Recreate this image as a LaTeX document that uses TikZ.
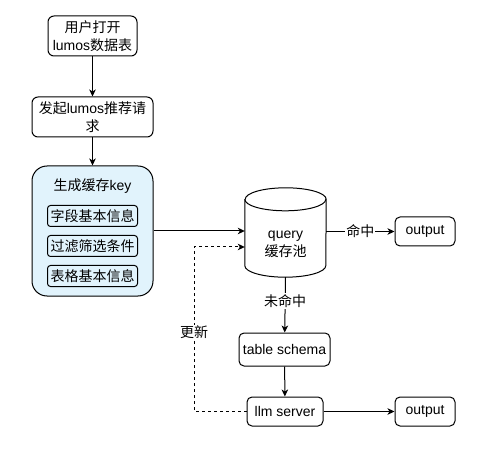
\documentclass[tikz,border=0pt]{standalone}
\usepackage{fontspec}
\setmainfont{Liberation Sans}
\newfontfamily\cjk{Noto Sans CJK SC}
\usetikzlibrary{arrows.meta}
\definecolor{keyblue}{RGB}{225,243,252}

\begin{document}
\begin{tikzpicture}[x=1pt,y=-1pt,
	box/.style={draw,line width=1pt,rounded corners=6pt,align=center,inner sep=0pt,font=\fontsize{14pt}{18pt}\selectfont},
	field/.style={box,rounded corners=3pt,minimum width=90pt,minimum height=21pt},
	small/.style={box,rounded corners=5pt,minimum width=60pt,minimum height=29pt},
	lbl/.style={fill=white,inner sep=1pt,align=center,font=\fontsize{14pt}{18pt}\selectfont},
	line/.style={line width=1pt,->}]
		\tikzset{> = {Stealth[length=7pt,width=6.5pt,inset=2pt]}}
		\useasboundingbox (0,0) rectangle (503,454);
		\node[box,minimum width=89pt,minimum height=40pt] (U) at (92.5,36){{\cjk 用户打开}\\lumos{\cjk 数据表}};
		\node[box,minimum width=121pt,minimum height=40pt] (R) at (92.5,117){{\cjk 发起}lumos{\cjk 推荐请}\\{\cjk 求}};
		\node[box,fill=keyblue,rounded corners=15pt,minimum width=121pt,minimum height=130pt] (K) at (92.5,231){};
		\node[lbl,fill=none] (T) at (92.5,186){{\cjk 生成缓存}key};
		\node[field] (K1) at (92.5,216){\cjk 字段基本信息};
		\node[field] (K2) at (92.5,246){\cjk 过滤筛选条件};
		\node[field] (K3) at (92.5,276){\cjk 表格基本信息};
		\node[lbl,fill=none,minimum width=81pt,minimum height=66pt,inner sep=0pt] (Q) at (285.5,244){query\\{\cjk 缓存池}};
		\draw[line width=1pt,fill=white] ([yshift=11.5pt]Q.north west) -- ([yshift=11.5pt]Q.south west) arc[start angle=180,end angle=360,x radius=40.5pt,y radius=11.5pt] -- ([yshift=11.5pt]Q.north east) arc[start angle=0,end angle=180,x radius=40.5pt,y radius=11.5pt];
		\draw[line width=1pt] ([yshift=11.5pt]Q.north west) arc[start angle=180,end angle=360,x radius=40.5pt,y radius=11.5pt];
		\node[lbl,fill=none] at (Q){query\\{\cjk 缓存池}};
		\node[small] (O) at (425,231.5){output};
		\node[box,rounded corners=5pt,minimum width=91pt,minimum height=33pt] (S) at (284.5,349.5){table schema};
		\node[box,rounded corners=5pt,minimum width=76pt,minimum height=29pt] (L) at (285,411.5){llm server};
		\node[small] (P) at (425,411.5){output};
		\coordinate (C) at (194,411.5);
		\draw[line] (U) -- (R);
		\draw[line] (R) -- (K);
		\draw[line] (K.east) -- (K.east -| Q.west);
		\draw[line] (O.west -| Q.east) -- node[lbl]{\cjk 命中}(O.west);
		\draw[line] (Q.south) -- node[lbl,pos=0.43]{\cjk 未命中}(S);
		\draw[line] (S) -- (L);
		\draw[line] (L) -- (P);
		\draw[line,dashed] (L.west) -- (C) |- node[lbl,pos=0.24]{\cjk 更新}([yshift=-3pt]Q.west);
	\end{tikzpicture}
\end{document}
